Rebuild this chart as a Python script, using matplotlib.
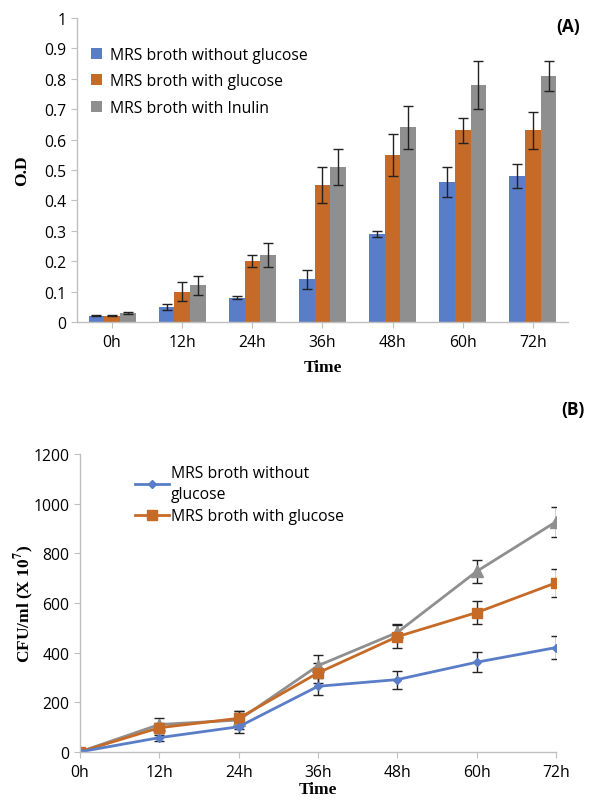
import numpy as np
import matplotlib
matplotlib.use("Agg")
import matplotlib.pyplot as plt

plt.rcParams['font.family'] = ['Open Sans', 'DejaVu Sans']
plt.rcParams['mathtext.fontset'] = 'stix'

times = ["0h", "12h", "24h", "36h", "48h", "60h", "72h"]

# (A) optical density
od_noglu = [0.02, 0.05, 0.08, 0.14, 0.29, 0.46, 0.48]
od_glu = [0.02, 0.10, 0.20, 0.45, 0.55, 0.63, 0.63]
od_inulin = [0.03, 0.12, 0.22, 0.51, 0.64, 0.78, 0.81]
od_noglu_err = [0.002, 0.01, 0.005, 0.03, 0.01, 0.05, 0.04]
od_glu_err = [0.002, 0.03, 0.02, 0.06, 0.07, 0.04, 0.06]
od_inulin_err = [0.003, 0.03, 0.04, 0.06, 0.07, 0.08, 0.05]

# (B) CFU/ml
cfu_noglu = [0, 57, 101, 264, 291, 361, 420]
cfu_glu = [0, 97, 135, 318, 464, 561, 681]
cfu_inulin = [0, 110, 128, 347, 481, 727, 927]
cfu_noglu_err = [0, 12, 24, 35, 36, 40, 45]
cfu_glu_err = [0, 20, 30, 40, 47, 45, 56]
cfu_inulin_err = [0, 27, 35, 42, 32, 47, 60]

blue = "#5A7DC8"
orange = "#C66A28"
gray = "#8F8F8F"
axcol = "#BFBFBF"
serif = ['Liberation Serif', 'DejaVu Serif']
fs = 11.3

fig = plt.figure(figsize=(5.89, 8.03), dpi=100)

# ---------- (A) bar chart ----------
ax1 = fig.add_axes([0.1307, 0.5978, 0.8336, 0.3785])
x = np.arange(len(times))
w = 0.223
ek = dict(ecolor="#222222", capsize=3.5, error_kw=dict(elinewidth=1, capthick=1))
ax1.bar(x - w, od_noglu, w, yerr=od_noglu_err, color=blue, label="MRS broth without glucose", **ek)
ax1.bar(x, od_glu, w, yerr=od_glu_err, color=orange, label="MRS broth with glucose", **ek)
ax1.bar(x + w, od_inulin, w, yerr=od_inulin_err, color=gray, label="MRS broth with Inulin", **ek)
ax1.set_xlim(-0.5, 6.5)
ax1.set_ylim(0, 1)
ax1.set_yticks(np.arange(0, 1.01, 0.1))
ax1.set_yticklabels(["0"] + ["%.1f" % v for v in np.arange(0.1, 0.95, 0.1)] + ["1"])
ax1.set_xticks(x)
ax1.set_xticklabels(times)
ax1.set_xlabel("Time", family=serif, fontweight="bold", fontsize=12.5, labelpad=6)
ax1.set_ylabel("O.D", family=serif, fontweight="bold", fontsize=12.5, labelpad=10)
ax1.legend(loc="upper left", bbox_to_anchor=(0.0, 0.952), frameon=False, fontsize=fs,
           handlelength=0.7, handleheight=0.7, handletextpad=0.5, labelspacing=0.68)
fig.text(0.985, 0.966, "(A)", ha="right", va="center", fontweight="bold", fontsize=12.5)

# ---------- (B) line chart ----------
ax2 = fig.add_axes([0.1358, 0.0625, 0.8082, 0.3709])
ek2 = dict(lw=2, ecolor="#222222", elinewidth=1, capsize=3.5, capthick=1)
ax2.errorbar(x, cfu_inulin, yerr=cfu_inulin_err, color=gray, marker="^", markersize=8, **ek2)
e_glu = ax2.errorbar(x, cfu_glu, yerr=cfu_glu_err, color=orange, marker="s", markersize=7.5, **ek2)
e_noglu = ax2.errorbar(x, cfu_noglu, yerr=cfu_noglu_err, color=blue, marker="D", markersize=4.5, **ek2)
ax2.set_xlim(0, 6)
ax2.set_ylim(0, 1200)
ax2.set_yticks(np.arange(0, 1201, 200))
ax2.set_xticks(x)
ax2.set_xticklabels(times)
ax2.set_xlabel("Time", family=serif, fontweight="bold", fontsize=12.5, labelpad=0.5)
ax2.set_ylabel(r"CFU/ml (X 10$^{\mathbf{7}}$)", family=serif, fontweight="bold", fontsize=12.5)
ax2.yaxis.set_label_coords(-0.092, 0.5)
leg = ax2.legend([e_noglu[0], e_glu[0]], ["MRS broth without\nglucose", "MRS broth with glucose"],
                 loc="upper left", bbox_to_anchor=(0.085, 1.012), frameon=False,
                 fontsize=fs, handlelength=2.2, handletextpad=0.1, labelspacing=0.4)
for t in leg.get_texts():
    t.set_linespacing(1.45)
fig.text(0.993, 0.489, "(B)", ha="right", va="center", fontweight="bold", fontsize=12.5)

for ax in (ax1, ax2):
    for s in ("top", "right"):
        ax.spines[s].set_visible(False)
    for s in ("left", "bottom"):
        ax.spines[s].set_color(axcol)
        ax.spines[s].set_linewidth(1)
    ax.tick_params(axis="both", colors=axcol, labelcolor="black", labelsize=fs, length=4)
ax1.tick_params(axis="x", pad=5)
ax2.tick_params(axis="x", pad=5)

fig.savefig("out.png", dpi=100)
